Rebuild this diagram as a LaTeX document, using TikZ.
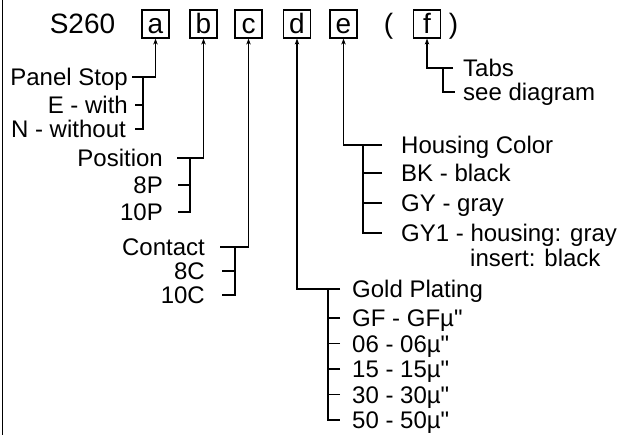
\documentclass[tikz,border=0pt]{standalone}
\usepackage{fontspec}
\setmainfont{Liberation Sans}[Ligatures=TeXOff]
\usetikzlibrary{arrows.meta, positioning}

\begin{document}
\begin{tikzpicture}[
    x=1pt, y=-1pt,
    font=\fontsize{24}{28}\selectfont,
    toprow/.style={inner sep=0pt, text height=20pt, text depth=0pt, font=\fontsize{28}{32}\selectfont},
    slot/.style={toprow, rectangle, draw, line width=1.2pt, minimum width=27pt, minimum height=28pt},
    entry/.style={inner sep=0pt, text height=17pt, text depth=0pt},
    lead/.style={line width=1.4pt},
    arrow/.style={lead, -{Stealth[length=6pt, width=4.5pt]}}
  ]
  \useasboundingbox (0,0) rectangle (617,435);
  \draw[line width=1.6pt] (2.5,0) -- (2.5,435);

  % Part number
  \node (part) [toprow] at (82.5,24) {S260};
  \node (a) [slot] at (155.5,24) {a};
  \node (b) [slot] at (203.5,24) {b};
  \node (c) [slot] at (248.5,24) {c};
  \node (d) [slot] at (297,24) {d};
  \node (e) [slot] at (343.5,24) {e};
  \node (lpar) [toprow] at (388.5,24) {(};
  \node (f) [slot] at (427,24) {f};
  \node (rpar) [toprow] at (453.5,24) {)};

  % a - Panel Stop
  \node (stop) [entry, anchor=east] at (128,77) {Panel Stop};
  \node (stopE) [entry, anchor=east] at (128,105) {E - with};
  \node (stopN) [entry, anchor=east] at (126,129) {N - without};
  \coordinate (abar) at (143,77);
  \draw[arrow] ([xshift=4pt]stop.east) -| (a);
  \draw[lead] (abar) |- ([xshift=9pt]stopN.east);
  \draw[lead] ([xshift=7pt]stopE.east) -- (abar |- stopE.east);

  % b - Position
  \node (pos) [entry, anchor=east] at (163,158) {Position};
  \node (pos8) [entry, anchor=east] at (163,185) {8P};
  \node (pos10) [entry, anchor=east] at (163,212) {10P};
  \coordinate (bbar) at (190,158);
  \draw[arrow] ([xshift=14pt]pos.east) -| (b);
  \draw[lead] (bbar) |- ([xshift=15pt]pos10.east);
  \draw[lead] ([xshift=15pt]pos8.east) -- (bbar |- pos8.east);

  % c - Contact
  \node (cont) [entry, anchor=east] at (205,247) {Contact};
  \node (cont8) [entry, anchor=east] at (205,271) {8C};
  \node (cont10) [entry, anchor=east] at (205,295) {10C};
  \coordinate (cbar) at (235,247);
  \draw[arrow] ([xshift=15pt]cont.east) -| (c);
  \draw[lead] (cbar) |- ([xshift=17pt]cont10.east);
  \draw[lead] ([xshift=17pt]cont8.east) -- (cbar |- cont8.east);

  % d - Gold Plating
  \node (gold) [entry, anchor=west] at (352,289) {Gold Plating};
  \node (gGF) [entry, anchor=west] at (352,318) {GF - GFµ"};
  \node (g06) [entry, anchor=west] at (352,343.5) {06 - 06µ"};
  \node (g15) [entry, anchor=west] at (352,369) {15 - 15µ"};
  \node (g30) [entry, anchor=west] at (352,394.5) {30 - 30µ"};
  \node (g50) [entry, anchor=west] at (352,420) {50 - 50µ"};
  \coordinate (dbar) at (328,289);
  \draw[arrow] ([xshift=-12pt]gold.west) -| (d);
  \draw[lead] (dbar) |- ([xshift=-12pt]g50.west);
  \foreach \g in {gGF, g06, g15, g30}
    \draw[lead] ([xshift=-12pt]\g.west) -- (dbar |- \g.west);

  % e - Housing Color
  \node (house) [entry, anchor=west] at (401,145) {Housing Color};
  \node (hBK) [entry, anchor=west] at (401,173) {BK - black};
  \node (hGY) [entry, anchor=west] at (401,203) {GY - gray};
  \node (hGY1) [entry, anchor=west] at (401,233) {GY1 - housing: gray};
  \node (hins) [entry, anchor=west] at (470,258) {insert: black};
  \coordinate (ebar) at (363,145);
  \draw[arrow] ([xshift=-19pt]house.west) -| (e);
  \draw[lead] (ebar) |- ([xshift=-19pt]hGY1.west);
  \foreach \h in {hBK, hGY}
    \draw[lead] ([xshift=-19pt]\h.west) -- (ebar |- \h.west);

  % f - Tabs
  \node (tabs) [entry, anchor=west] at (463,68) {Tabs};
  \node (tabsee) [entry, anchor=west] at (463,92) {see diagram};
  \coordinate (fbar) at (443,68);
  \draw[arrow] ([xshift=-10pt]tabs.west) -| (f);
  \draw[lead] (fbar) |- ([xshift=-8pt]tabsee.west);

\end{tikzpicture}
\end{document}
